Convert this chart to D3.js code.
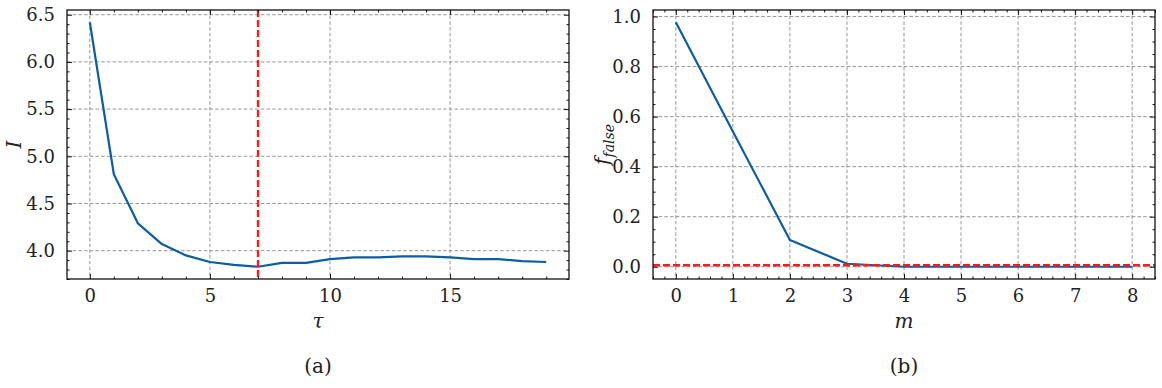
<!DOCTYPE html>
<html>
<head>
<meta charset="utf-8">
<script src="https://cdn.jsdelivr.net/npm/d3@7"></script>
<style>
  html, body { margin: 0; padding: 0; background: #fff; }
  svg { display: block; }
</style>
</head>
<body>
<svg id="chart" width="1162" height="388"></svg>
<script>
// ---- Data ----
const tauValues = [0,1,2,3,4,5,6,7,8,9,10,11,12,13,14,15,16,17,18,19];
const mutualInfo = [6.42,4.81,4.29,4.07,3.95,3.88,3.85,3.83,3.87,3.87,3.91,3.93,3.93,3.94,3.94,3.93,3.91,3.91,3.89,3.88];
const tauChosen = 7;

const mValues = [0,1,2,3,4,5,6,7,8];
const fFalse = [0.977,0.54,0.107,0.012,0.0,0.0,0.0,0.0,0.0];
const fThreshold = 0.006;

const tauTicks = [0,5,10,15];
const iTicks = [4.0,4.5,5.0,5.5,6.0,6.5];
const mTicks = [0,1,2,3,4,5,6,7,8];
const fTicks = [0.0,0.2,0.4,0.6,0.8,1.0];

const BLUE = "#0C5DA5";
const RED = "#ff1a1a";
const GRID = "#8a8a8a";
const FONT = "DejaVu Serif";

const svg = d3.select("#chart");
svg.append("rect").attr("width",1162).attr("height",388).attr("fill","#fff");

function minorRange(lo, hi, step) {
  const out = [];
  const start = Math.ceil(lo/step - 1e-9);
  for (let k = start; k*step <= hi + 1e-9; k++) out.push(+(k*step).toFixed(6));
  return out;
}

function panel(cfg) {
  const {left, top, right, bottom} = cfg;
  const x = d3.scaleLinear().domain(cfg.xDomain).range([left, right]);
  const y = d3.scaleLinear().domain(cfg.yDomain).range([bottom, top]);
  const g = svg.append("g").attr("font-family", FONT);

  const grid = g.append("g").attr("stroke", GRID).attr("stroke-width", 0.9).attr("stroke-dasharray", "3.5,2.2");
  cfg.xTicks.forEach(v => grid.append("line").attr("x1", x(v)).attr("x2", x(v)).attr("y1", top).attr("y2", bottom));
  cfg.yTicks.forEach(v => grid.append("line").attr("y1", y(v)).attr("y2", y(v)).attr("x1", left).attr("x2", right));

  const line = d3.line().x(d => x(d[0])).y(d => y(d[1]));
  g.append("path").datum(cfg.xs.map((v,i) => [v, cfg.ys[i]]))
    .attr("d", line).attr("fill","none").attr("stroke", BLUE).attr("stroke-width", 2.2)
    .attr("stroke-linejoin","round");

  if (cfg.vline !== undefined) {
    g.append("line").attr("x1", x(cfg.vline)).attr("x2", x(cfg.vline)).attr("y1", top).attr("y2", bottom)
      .attr("stroke", RED).attr("stroke-width", 2.3).attr("stroke-dasharray", "7,3");
  }
  if (cfg.hline !== undefined) {
    g.append("line").attr("y1", y(cfg.hline)).attr("y2", y(cfg.hline)).attr("x1", left).attr("x2", right)
      .attr("stroke", RED).attr("stroke-width", 2.3).attr("stroke-dasharray", "7,3");
  }

  const bottomAx = d3.axisBottom(x).tickValues(cfg.xTicks).tickSize(-5).tickFormat(cfg.xFmt).tickPadding(10);
  const topAx = d3.axisTop(x).tickValues(cfg.xTicks).tickSize(-5).tickFormat("");
  const leftAx = d3.axisLeft(y).tickValues(cfg.yTicks).tickSize(-5).tickFormat(cfg.yFmt).tickPadding(12);
  const rightAx = d3.axisRight(y).tickValues(cfg.yTicks).tickSize(-5).tickFormat("");

  const xMinor = minorRange(cfg.xDomain[0], cfg.xDomain[1], cfg.xMinor).filter(v => !cfg.xTicks.some(t => Math.abs(t-v) < 1e-6));
  const yMinor = minorRange(cfg.yDomain[0], cfg.yDomain[1], cfg.yMinor).filter(v => !cfg.yTicks.some(t => Math.abs(t-v) < 1e-6));

  const axes = [
    [d3.axisBottom(x).tickValues(xMinor).tickSize(-2.5).tickFormat(""), `translate(0,${bottom})`],
    [d3.axisTop(x).tickValues(xMinor).tickSize(-2.5).tickFormat(""), `translate(0,${top})`],
    [d3.axisLeft(y).tickValues(yMinor).tickSize(-2.5).tickFormat(""), `translate(${left},0)`],
    [d3.axisRight(y).tickValues(yMinor).tickSize(-2.5).tickFormat(""), `translate(${right},0)`],
    [bottomAx, `translate(0,${bottom})`],
    [topAx, `translate(0,${top})`],
    [leftAx, `translate(${left},0)`],
    [rightAx, `translate(${right},0)`],
  ];
  axes.forEach(([ax, tr]) => {
    const a = g.append("g").attr("transform", tr).call(ax);
    a.attr("font-family", FONT).attr("font-size", 18);
    a.select(".domain").remove();
    a.selectAll(".tick line").attr("stroke", "#111").attr("stroke-width", 1);
    a.selectAll(".tick text").attr("fill", "#222");
  });

  g.append("rect").attr("x", left).attr("y", top).attr("width", right-left).attr("height", bottom-top)
    .attr("fill","none").attr("stroke","#111").attr("stroke-width",1.3);

  const cx = (left+right)/2;
  g.append("text").attr("x", cx).attr("y", 328).attr("text-anchor","middle").attr("fill","#222")
    .attr("font-size", 20).attr("font-style","italic").text(cfg.xLabel);
  g.append("text").attr("x", cx).attr("y", 373).attr("text-anchor","middle").attr("fill","#222")
    .attr("font-size", 20).text(cfg.caption);
  const yl = g.append("text").attr("transform", `translate(${cfg.yLabelX},${(top+bottom)/2}) rotate(-90)`)
    .attr("text-anchor","middle").attr("fill","#222").attr("font-size", 20).attr("font-style","italic");
  cfg.yLabel(yl);
}

panel({
  left: 67, top: 10, right: 569, bottom: 279,
  xDomain: [-0.95, 19.95], yDomain: [3.70, 6.55],
  xTicks: tauTicks, yTicks: iTicks, xMinor: 1, yMinor: 0.1,
  xFmt: d3.format("d"), yFmt: d3.format(".1f"),
  xs: tauValues, ys: mutualInfo, vline: tauChosen,
  xLabel: "τ", caption: "(a)", yLabelX: 21,
  yLabel: t => t.text("I")
});

panel({
  left: 653, top: 10, right: 1155, bottom: 279,
  xDomain: [-0.4, 8.4], yDomain: [-0.0489, 1.0259],
  xTicks: mTicks, yTicks: fTicks, xMinor: 0.2, yMinor: 0.05,
  xFmt: d3.format("d"), yFmt: d3.format(".1f"),
  xs: mValues, ys: fFalse, hline: fThreshold,
  xLabel: "m", caption: "(b)", yLabelX: 609,
  yLabel: t => { t.append("tspan").text("f"); t.append("tspan").attr("dy", 5).attr("font-size", 14).text("false"); }
});
</script>
</body>
</html>
